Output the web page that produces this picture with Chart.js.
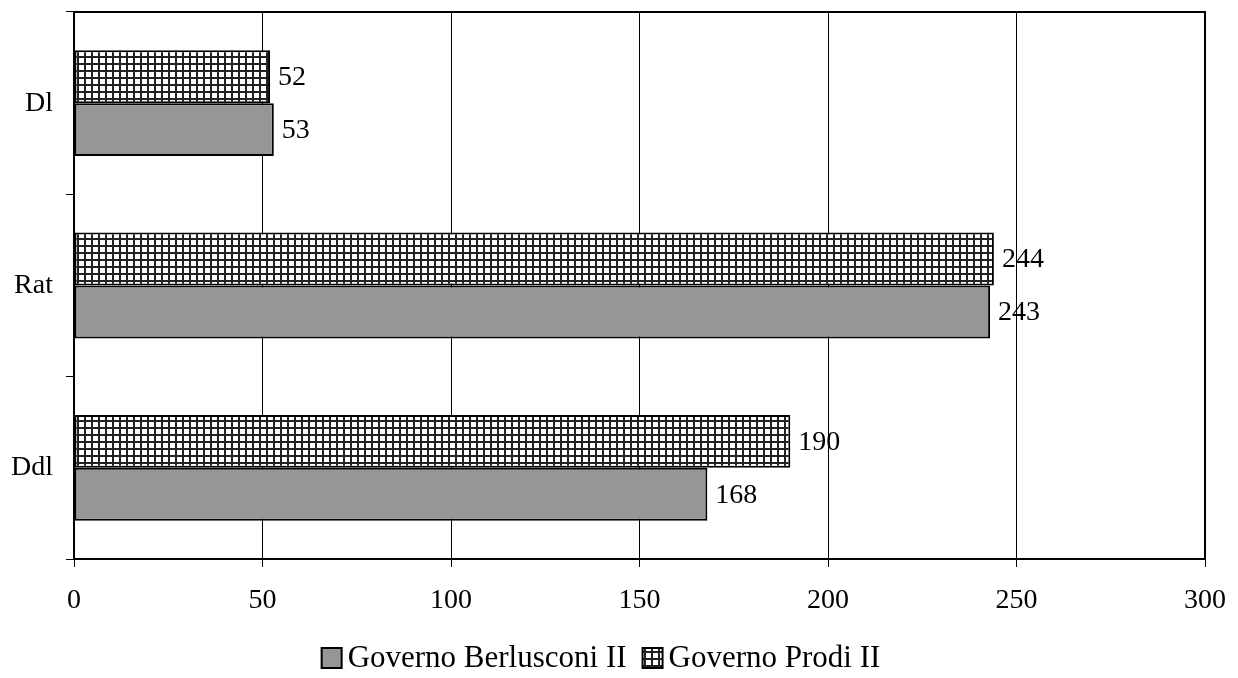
<!DOCTYPE html>
<html>
<head>
<meta charset="utf-8">
<script src="https://cdn.jsdelivr.net/npm/chart.js@4.4.0/dist/chart.umd.min.js"></script>
<style>
  html, body { margin: 0; padding: 0; background: #fff; }
  #wrap { width: 1238px; height: 678px; }
</style>
</head>
<body>
<div id="wrap"><canvas id="chart" width="1238" height="678"></canvas></div>
<script>
// categories top to bottom
const categories = ['Dl', 'Rat', 'Ddl'];
const berlusconi = [53, 243, 168];
const prodi = [52, 244, 190];
const xTicks = [0, 50, 100, 150, 200, 250, 300];

const FONT = "'Liberation Serif', 'Times New Roman', serif";

// checkered hatch for Prodi II
function makeHatch() {
    const c = document.createElement('canvas');
    c.width = 7; c.height = 7;
    const g = c.getContext('2d');
    g.fillStyle = '#fff';
    g.fillRect(0, 0, 7, 7);
    g.fillStyle = '#222';
    g.fillRect(0, 0, 7, 2);
    g.fillRect(0, 0, 2, 7);
    return g.createPattern(c, 'repeat');
}

const frame = {
    id: 'frame',
    afterDraw(chart) {
        const a = chart.chartArea, ctx = chart.ctx;
        ctx.save();
        ctx.strokeStyle = '#000';
        ctx.lineWidth = 2;
        ctx.beginPath();
        ctx.moveTo(a.left, a.top);
        ctx.lineTo(a.right, a.top);
        ctx.lineTo(a.right, a.bottom);
        ctx.stroke();
        ctx.restore();
    }
};

const valueLabels = {
    id: 'valueLabels',
    afterDatasetsDraw(chart) {
        const ctx = chart.ctx;
        ctx.save();
        ctx.font = '28px ' + FONT;
        ctx.fillStyle = '#000';
        ctx.textBaseline = 'middle';
        ctx.textAlign = 'left';
        chart.data.datasets.forEach((ds, i) => {
            chart.getDatasetMeta(i).data.forEach((el, j) => {
                ctx.fillText(ds.data[j], el.x + 8, el.y + 1);
            });
        });
        ctx.restore();
    }
};

// legend drawn by hand: Excel style, box close to text
const bottomLegend = {
    id: 'bottomLegend',
    afterDraw(chart) {
        const ctx = chart.ctx;
        const items = chart.data.datasets.slice().reverse();
        const box = 20, gap = 6, itemGap = 16;
        ctx.save();
        ctx.font = '31px ' + FONT;
        ctx.textBaseline = 'middle';
        let total = 0;
        items.forEach((ds, i) => {
            total += box + gap + ctx.measureText(ds.label).width + (i ? itemGap : 0);
        });
        let x = 601 - total / 2;
        const cy = 658;
        items.forEach((ds, i) => {
            if (i) x += itemGap;
            ctx.fillStyle = ds.backgroundColor;
            ctx.fillRect(x, cy - box / 2, box, box);
            ctx.strokeStyle = '#000';
            ctx.lineWidth = 2;
            ctx.strokeRect(x, cy - box / 2, box, box);
            x += box + gap;
            ctx.fillStyle = '#000';
            ctx.fillText(ds.label, x, cy + 1);
            x += ctx.measureText(ds.label).width;
        });
        ctx.restore();
    }
};

const ctx = document.getElementById('chart').getContext('2d');
new Chart(ctx, {
    type: 'bar',
    data: {
        labels: categories,
        datasets: [
            {
                label: 'Governo Prodi II',
                data: prodi,
                backgroundColor: makeHatch(),
                borderColor: '#000',
                borderWidth: 2,
                borderSkipped: false,
                categoryPercentage: 0.58,
                barPercentage: 1.0
            },
            {
                label: 'Governo Berlusconi II',
                data: berlusconi,
                backgroundColor: '#969696',
                borderColor: '#000',
                borderWidth: 2,
                borderSkipped: false,
                categoryPercentage: 0.58,
                barPercentage: 1.0
            }
        ]
    },
    options: {
        indexAxis: 'y',
        responsive: false,
        maintainAspectRatio: false,
        animation: false,
        layout: { padding: { left: 0, top: 12, right: 33, bottom: 59 } },
        scales: {
            x: {
                min: 0, max: 300,
                afterBuildTicks: s => { s.ticks = xTicks.map(v => ({ value: v })); },
                ticks: { color: '#000', font: { size: 28, family: FONT }, padding: 17 },
                grid: { color: '#000', lineWidth: 1, tickLength: 8, drawTicks: true },
                border: { color: '#000', width: 2 },
                afterFit: s => { s.height = 60; s.paddingLeft = 0; s.paddingRight = 0; }
            },
            y: {
                ticks: { color: '#000', font: { size: 28, family: FONT }, padding: 13 },
                grid: { offset: true, drawOnChartArea: false, color: '#000', tickLength: 8 },
                border: { color: '#000', width: 2 },
                afterFit: s => { s.width = 74; s.paddingTop = 0; s.paddingBottom = 0; }
            }
        },
        plugins: {
            legend: { display: false },
            tooltip: { enabled: false }
        }
    },
    plugins: [frame, valueLabels, bottomLegend]
});
</script>
</body>
</html>
